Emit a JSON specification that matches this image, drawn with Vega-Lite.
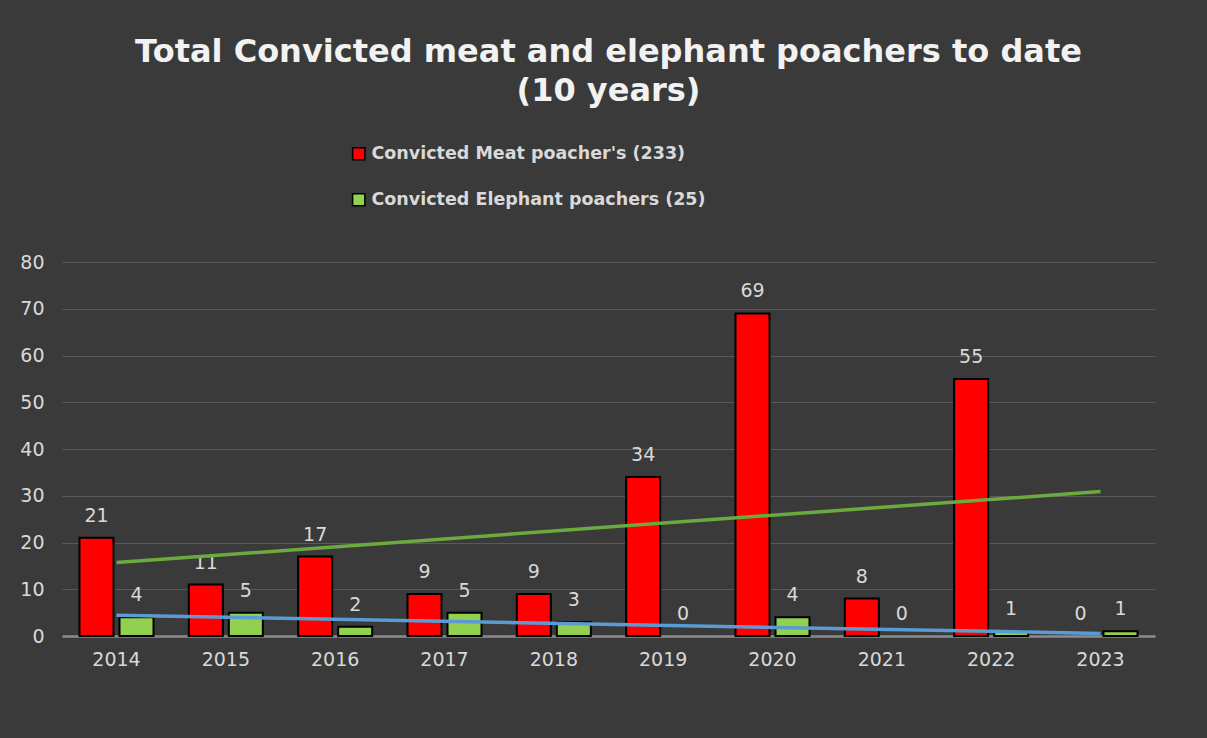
{
  "$schema": "https://vega.github.io/schema/vega-lite/v6.json",
  "width": 1093,
  "height": 374,
  "autosize": {"type": "none"},
  "padding": {"left": 62, "top": 262, "right": 52, "bottom": 102},
  "background": "#3a3a3a",
  "config": {"view": {"stroke": null}, "font": "DejaVu Sans"},
  "title": {
    "text": ["Total Convicted meat and elephant poachers to date", "(10 years)"],
    "font": "DejaVu Sans",
    "fontSize": 32,
    "fontWeight": "bold",
    "color": "#f2f2f2",
    "anchor": "middle",
    "offset": 37,
    "lineHeight": 39
  },
  "datasets": {
    "bars": [
      {"year": "2014", "series": "Convicted Meat poacher's (233)", "value": 21},
      {"year": "2015", "series": "Convicted Meat poacher's (233)", "value": 11},
      {"year": "2016", "series": "Convicted Meat poacher's (233)", "value": 17},
      {"year": "2017", "series": "Convicted Meat poacher's (233)", "value": 9},
      {"year": "2018", "series": "Convicted Meat poacher's (233)", "value": 9},
      {"year": "2019", "series": "Convicted Meat poacher's (233)", "value": 34},
      {"year": "2020", "series": "Convicted Meat poacher's (233)", "value": 69},
      {"year": "2021", "series": "Convicted Meat poacher's (233)", "value": 8},
      {"year": "2022", "series": "Convicted Meat poacher's (233)", "value": 55},
      {"year": "2023", "series": "Convicted Meat poacher's (233)", "value": 0},
      {"year": "2014", "series": "Convicted Elephant poachers (25)", "value": 4},
      {"year": "2015", "series": "Convicted Elephant poachers (25)", "value": 5},
      {"year": "2016", "series": "Convicted Elephant poachers (25)", "value": 2},
      {"year": "2017", "series": "Convicted Elephant poachers (25)", "value": 5},
      {"year": "2018", "series": "Convicted Elephant poachers (25)", "value": 3},
      {"year": "2019", "series": "Convicted Elephant poachers (25)", "value": 0},
      {"year": "2020", "series": "Convicted Elephant poachers (25)", "value": 4},
      {"year": "2021", "series": "Convicted Elephant poachers (25)", "value": 0},
      {"year": "2022", "series": "Convicted Elephant poachers (25)", "value": 1},
      {"year": "2023", "series": "Convicted Elephant poachers (25)", "value": 1}
    ],
    "trend": [
      {"year": "2014", "trend": "meat", "value": 15.7},
      {"year": "2023", "trend": "meat", "value": 30.9},
      {"year": "2014", "trend": "elephant", "value": 4.44},
      {"year": "2023", "trend": "elephant", "value": 0.56}
    ]
  },
  "layer": [
    {
      "data": {"name": "bars"},
      "mark": {"type": "bar", "stroke": "#000000"},
      "encoding": {
        "x": {
          "field": "year", "type": "nominal", "title": null,
          "scale": {"paddingInner": 0.323, "paddingOuter": 0.16},
          "axis": {
            "labelAngle": 0, "labelColor": "#d9d9d9", "labelFontSize": 19, "labelFont": "DejaVu Sans",
            "labelPadding": 14, "ticks": false, "grid": false,
            "domainColor": "#8c8c8c", "domainWidth": 2.5
          }
        },
        "xOffset": {
          "field": "series", "type": "nominal",
          "scale": {"domain": ["Convicted Meat poacher's (233)", "Convicted Elephant poachers (25)"], "paddingInner": 0.15, "paddingOuter": 0}
        },
        "y": {
          "field": "value", "type": "quantitative", "title": null,
          "scale": {"domain": [0, 80]},
          "axis": {
            "values": [0, 10, 20, 30, 40, 50, 60, 70, 80],
            "labelColor": "#d9d9d9", "labelFontSize": 19, "labelFont": "DejaVu Sans", "labelPadding": 18,
            "domain": false, "ticks": false, "grid": true, "gridColor": "#595959", "gridWidth": 1
          }
        },
        "strokeWidth": {"condition": {"test": "datum.value > 0", "value": 2}, "value": 0},
        "fill": {
          "field": "series", "type": "nominal",
          "scale": {"domain": ["Convicted Meat poacher's (233)", "Convicted Elephant poachers (25)"], "range": ["#ff0000", "#92d050"]},
          "legend": {
            "orient": "none", "legendX": 288, "legendY": -117, "direction": "vertical", "title": null,
            "symbolType": "square", "symbolSize": 150, "symbolStrokeColor": "#000000", "symbolStrokeWidth": 1.5,
            "labelColor": "#d9d9d9", "labelFont": "DejaVu Sans", "labelFontWeight": "bold", "labelFontSize": 17.5,
            "rowPadding": 27, "labelOffset": 4, "labelLimit": 600
          }
        }
      }
    },
    {
      "data": {"name": "bars"},
      "mark": {"type": "text", "dy": -16, "baseline": "alphabetic", "color": "#d9d9d9", "fontSize": 19, "font": "DejaVu Sans"},
      "encoding": {
        "x": {"field": "year", "type": "nominal"},
        "xOffset": {"field": "series", "type": "nominal"},
        "y": {"field": "value", "type": "quantitative"},
        "text": {"field": "value", "type": "quantitative"}
      }
    },
    {
      "data": {"name": "trend"},
      "mark": {"type": "line", "strokeWidth": 3.5},
      "encoding": {
        "x": {"field": "year", "type": "nominal"},
        "y": {"field": "value", "type": "quantitative"},
        "stroke": {
          "field": "trend", "type": "nominal", "legend": null,
          "scale": {"domain": ["meat", "elephant"], "range": ["#6aaa3f", "#5b9bd5"]}
        }
      }
    }
  ]
}
